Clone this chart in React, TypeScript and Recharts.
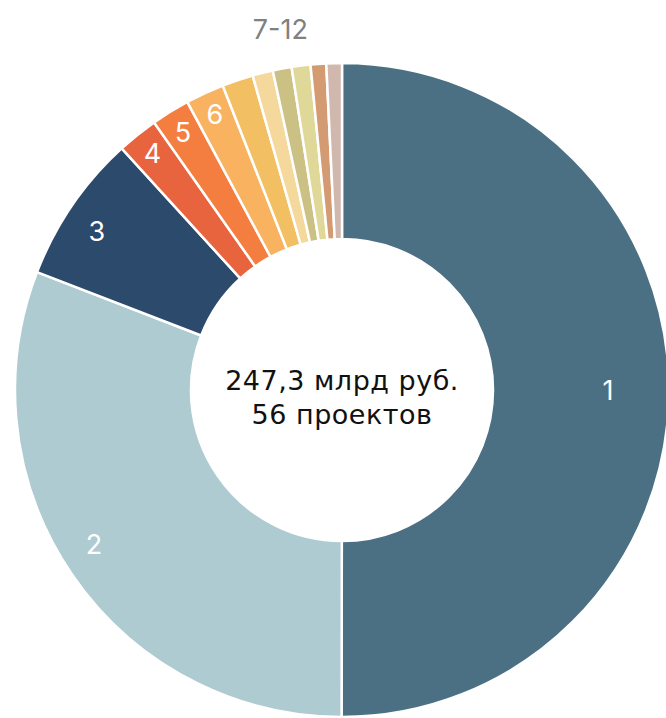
import { PieChart, Pie, Cell, Label } from "recharts";

const segments = ["1", "2", "3", "4", "5", "6", "7", "8", "9", "10", "11", "12"];
const values = [123.7, 76.3, 18.2, 5.0, 4.7, 4.7, 3.8, 2.5, 2.3, 2.3, 1.9, 1.9];
const colors = [
  "#4b7084", "#adcbd0", "#2b4a6c", "#e8643f", "#f47d40", "#f9b25f",
  "#f2c063", "#f5d89b", "#cbc185", "#e0d899", "#d49a72", "#d1b8ae",
];
const centerLines = ["247,3 млрд руб.", "56 проектов"];
const groupLabel = "7-12";
const labelledCount = 6;

const data = segments.map((name, i) => ({ name, value: values[i] }));

const W = 666;
const H = 718;
const CX = 342;
const CY = 390;
const INNER = 151;
const OUTER = 327;
const FONT = "Inter, 'Open Sans', sans-serif";
const CENTER_FONT = "'DejaVu Sans', Inter, sans-serif";
const RAD = Math.PI / 180;

function pointAt(angleCW: number, r: number) {
  // angle measured clockwise from 12 o'clock
  return { x: CX + r * Math.sin(angleCW * RAD), y: CY - r * Math.cos(angleCW * RAD) };
}

function renderLabel(props: any) {
  const { index, midAngle } = props;
  if (index < labelledCount) {
    const r = index === 0 ? 266 : index < 3 ? 292 : 303;
    // the two big left slices sit a touch lower in the reference
    const shift = index === 1 ? -2.5 : index === 2 ? 1.5 : 0;
    const a = -(midAngle + shift) * RAD;
    const x = CX + r * Math.cos(a);
    const y = CY + r * Math.sin(a);
    return (
      <text key={`l${index}`} x={x} y={y} fill="#fff" fontSize={27} fontFamily={FONT}
        textAnchor="middle" dominantBaseline="central">
        {segments[index]}
      </text>
    );
  }
  if (index === labelledCount) {
    const total = values.reduce((s, v) => s + v, 0);
    const before = values.slice(0, labelledCount).reduce((s, v) => s + v, 0);
    const start = (before / total) * 360;
    const p = pointAt((start + 360) / 2 + 1, 366);
    return (
      <text key="group" x={p.x} y={p.y} fill="#808080" fontSize={27} fontFamily={FONT}
        textAnchor="middle" dominantBaseline="central">
        {groupLabel}
      </text>
    );
  }
  return null;
}

function CenterText() {
  return (
    <g>
      <text x={CX} y={389.5} textAnchor="middle" fontSize={27} letterSpacing={0.5} fontFamily={CENTER_FONT} fill="#111">
        {centerLines[0]}
      </text>
      <text x={CX} y={423.5} textAnchor="middle" fontSize={27} letterSpacing={0.5} fontFamily={CENTER_FONT} fill="#111">
        {centerLines[1]}
      </text>
    </g>
  );
}

export default function App() {
  return (
    <div style={{ position: "fixed", left: 0, top: 0, width: W, height: H, background: "#fff", overflow: "hidden" }}>
      <PieChart width={W} height={H} margin={{ top: 0, right: 0, bottom: 0, left: 0 }}>
        <Pie
          data={data}
          dataKey="value"
          nameKey="name"
          cx={CX}
          cy={CY}
          innerRadius={INNER}
          outerRadius={OUTER}
          startAngle={90}
          endAngle={-270}
          stroke="#fff"
          strokeWidth={2.5}
          label={renderLabel}
          labelLine={false}
          isAnimationActive={false}
        >
          {data.map((d, i) => (
            <Cell key={d.name} fill={colors[i]} />
          ))}
          <Label position="center" content={() => <CenterText />} />
        </Pie>
      </PieChart>
    </div>
  );
}
